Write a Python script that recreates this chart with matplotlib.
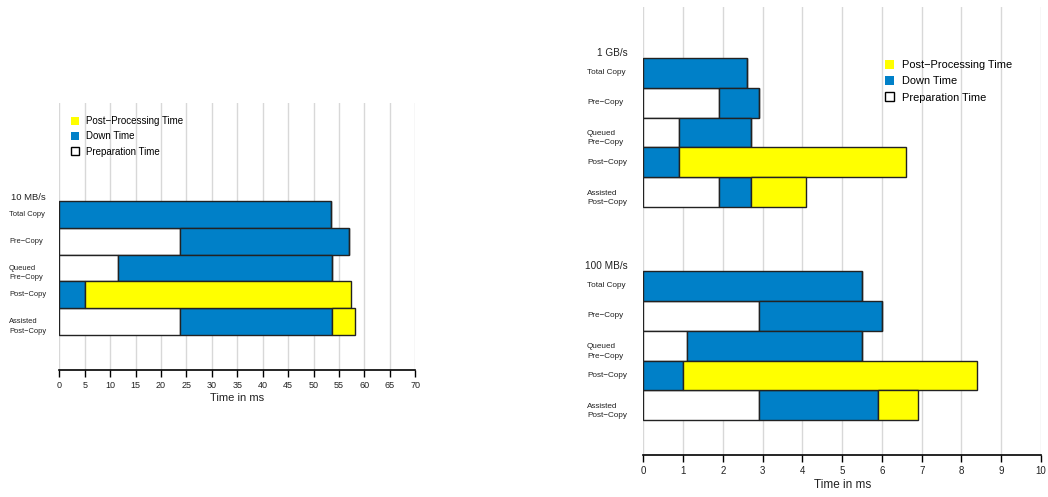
import matplotlib
matplotlib.use("Agg")
import matplotlib.pyplot as plt
from matplotlib.patches import Patch
from matplotlib import transforms

plt.rcParams['font.family'] = ['Liberation Sans', 'DejaVu Sans']

# ---- data ----
categories = ["Total Copy", "Pre\u2212Copy", "Queued\nPre\u2212Copy", "Post\u2212Copy", "Assisted\nPost\u2212Copy"]
series_names = ["Post\u2212Processing Time", "Down Time", "Preparation Time"]

# 10 MB/s (left chart)
prep_10mb = [0.0, 23.7, 11.5, 0.0, 23.7]
down_10mb = [53.5, 33.3, 42.2, 5.0, 30.0]
post_10mb = [0.0, 0.0, 0.0, 52.4, 4.5]

# 1 GB/s (right chart, top group)
prep_1gb = [0.0, 1.9, 0.9, 0.0, 1.9]
down_1gb = [2.6, 1.0, 1.8, 0.9, 0.8]
post_1gb = [0.0, 0.0, 0.0, 5.7, 1.4]

# 100 MB/s (right chart, bottom group)
prep_100mb = [0.0, 2.9, 1.1, 0.0, 2.9]
down_100mb = [5.5, 3.1, 4.4, 1.0, 3.0]
post_100mb = [0.0, 0.0, 0.0, 7.4, 1.0]

left_ticks = list(range(0, 75, 5))
right_ticks = list(range(0, 11, 1))

BLUE = "#0080C8"
YELLOW = "#FFFF00"
EDGE = "#222222"
GRID = "#d8d8d8"

W, H = 1048, 497
fig = plt.figure(figsize=(W / 100, H / 100), dpi=100)


def ax_rect(x0, x1, ytop, ybot):
    return [x0 / W, 1 - ybot / H, (x1 - x0) / W, (ybot - ytop) / H]


def draw_group(ax, offset, prep, down, post):
    ys = [offset + i for i in range(len(categories))]
    ax.barh(ys, prep, height=1.0, color="white", edgecolor=EDGE, linewidth=1.0, zorder=3)
    ax.barh(ys, down, left=prep, height=1.0, color=BLUE, edgecolor=EDGE, linewidth=1.0, zorder=3)
    left3 = [a + b for a, b in zip(prep, down)]
    ax.barh(ys, post, left=left3, height=1.0, color=YELLOW, edgecolor=EDGE, linewidth=1.0, zorder=3)
    return ys


def style_axes(ax, ticks, xmax, tick_fs, label_fs):
    ax.set_xlim(0, xmax)
    ax.set_xticks(ticks)
    ax.set_xticklabels([str(t) for t in ticks], fontsize=tick_fs, color="#222222")
    ax.set_yticks([])
    for s in ["top", "right", "left"]:
        ax.spines[s].set_visible(False)
    ax.spines["bottom"].set_linewidth(1.2)
    ax.spines["bottom"].set_color("black")
    ax.tick_params(axis="x", length=5, width=1.0, pad=3)
    ax.grid(axis="x", color=GRID, linewidth=1.0, zorder=0)
    ax.set_axisbelow(True)
    ax.set_xlabel("Time in ms", fontsize=label_fs, color="#222222", labelpad=2)


def cat_labels(ax, ys, x_px, fs, dy2):
    tr = transforms.blended_transform_factory(fig.transFigure, ax.transData)
    for y, c in zip(ys, categories):
        dy = dy2 if "\n" in c else 0.0
        ax.text(x_px / W, y + dy, c, transform=tr, ha="left", va="center",
                fontsize=fs, color="#222222", linespacing=1.5)


def legend(ax, x_px, y_px, fs, spacing):
    handles = [Patch(facecolor=YELLOW, edgecolor="none"),
               Patch(facecolor=BLUE, edgecolor="none"),
               Patch(facecolor="white", edgecolor="black", linewidth=1.0)]
    ax.legend(handles, series_names, loc="upper left",
              bbox_to_anchor=(x_px / W, 1 - y_px / H), bbox_transform=fig.transFigure,
              frameon=False, fontsize=fs, handlelength=0.85, handleheight=0.85,
              handletextpad=0.7, labelspacing=spacing, borderpad=0, borderaxespad=0)


# ---- left chart ----
axL = fig.add_axes(ax_rect(59.3, 415.3, 103, 370))
ysL = draw_group(axL, 0, prep_10mb, down_10mb, post_10mb)
axL.set_ylim(5.81, -4.17)
style_axes(axL, left_ticks, 70, 6.5, 8)
cat_labels(axL, ysL, 9, 5.4, 0.19)
trL = transforms.blended_transform_factory(fig.transFigure, axL.transData)
axL.text(46 / W, -0.62, "10 MB/s", transform=trL, ha="right", va="center", fontsize=6.8, color="#222222")
legend(axL, 71, 116, 7, 0.55)

# ---- right chart ----
axR = fig.add_axes(ax_rect(643.3, 1041, 7, 455))
ysA = draw_group(axR, 0, prep_1gb, down_1gb, post_1gb)
ysB = draw_group(axR, 7.15, prep_100mb, down_100mb, post_100mb)
axR.set_ylim(12.82, -2.21)
style_axes(axR, right_ticks, 10, 7, 8.5)
cat_labels(axR, ysA, 587, 5.9, 0.19)
cat_labels(axR, ysB, 587, 5.9, 0.19)
trR = transforms.blended_transform_factory(fig.transFigure, axR.transData)
axR.text(628 / W, -0.67, "1 GB/s", transform=trR, ha="right", va="center", fontsize=7.2, color="#222222")
axR.text(628 / W, 7.15 - 0.67, "100 MB/s", transform=trR, ha="right", va="center", fontsize=7.2, color="#222222")
legend(axR, 885, 60, 7.9, 0.55)

fig.savefig("out.png", dpi=100)
